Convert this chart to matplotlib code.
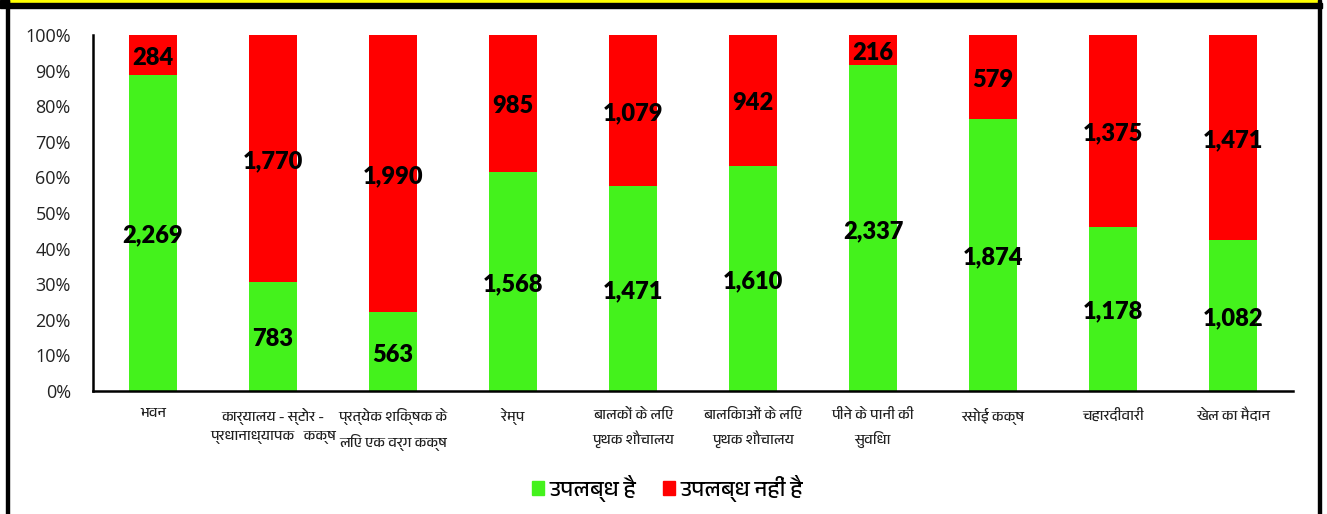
import matplotlib
matplotlib.use('Agg')
import matplotlib.pyplot as plt
import numpy as np
from matplotlib import font_manager
from matplotlib.ft2font import FT2Font
from matplotlib.patches import Rectangle, Patch

categories = ['भवन', 'कार्यालय - स्टोर -\nप्रधानाध्यापक   कक्ष', 'प्रत्येक शिक्षक के\nलिए एक वर्ग कक्ष',
              'रेम्प', 'बालकों के लिए\nपृथक शौचालय', 'बालिकाओं के लिए\nपृथक शौचालय',
              'पीने के पानी की\nसुविधा', 'रसोई कक्ष', 'चहारदीवारी', 'खेल का मैदान']
available = [2269, 783, 563, 1568, 1471, 1610, 2337, 1874, 1178, 1082]
not_available = [284, 1770, 1990, 985, 1079, 942, 216, 579, 1375, 1471]
series_names = ['उपलब्ध है', 'उपलब्ध नहीं है']
green = '#44F21C'
red = '#FF0000'

# fonts with devanagari glyphs, prefer dedicated devanagari ones
found = []
for f in font_manager.fontManager.ttflist:
    try:
        if 0x092D in FT2Font(f.fname).get_charmap() and f.style == 'normal':
            found.append(f.name)
    except Exception:
        pass
found = sorted(set(found), key=lambda n: (0 if 'Devanagari' in n else 1 if 'Lohit' in n else 2, n))
deva_family = found[:1] + ['DejaVu Sans']

avail = np.array(available, dtype=float)
notav = np.array(not_available, dtype=float)
tot = avail + notav
p_av = avail / tot * 100
p_na = notav / tot * 100

fig = plt.figure(figsize=(13.27, 5.14), dpi=100)
ax = fig.add_axes([0.0701, 0.2393, 0.9043, 0.6926])

x = np.arange(len(categories))
b1 = ax.bar(x, p_av, width=0.4, color=green, label=series_names[0])
b2 = ax.bar(x, p_na, width=0.4, bottom=p_av, color=red, label=series_names[1])
lab_font = dict(fontsize=17, fontweight='heavy', family=['Lato', 'DejaVu Sans'], color='black')
anns = ax.bar_label(b1, labels=[f'{v:,}' for v in available], label_type='center', **lab_font)
anns += ax.bar_label(b2, labels=[f'{v:,}' for v in not_available], label_type='center', **lab_font)
for a in anns:
    a.xyann = (0, -2)

ax.set_xlim(-0.5, 9.5)
ax.set_ylim(0, 100)
ax.set_yticks(np.arange(0, 101, 10))
ax.set_yticklabels([f'{t}%' for t in range(0, 101, 10)], family=['Open Sans', 'DejaVu Sans'], fontsize=13, color='#222222')
ax.set_xticks(x)
ax.set_xticklabels(categories, family=deva_family, fontsize=10.5, linespacing=1.75, color='#222222')
ax.tick_params(axis='both', length=0)
ax.tick_params(axis='y', pad=16)
ax.tick_params(axis='x', pad=12)
for s in ['top', 'right']:
    ax.spines[s].set_visible(False)
for s in ['left', 'bottom']:
    ax.spines[s].set_linewidth(1.8)
    ax.spines[s].set_color('black')

handles = [Patch(color=green), Patch(color=red)]
fig.legend(handles, series_names, loc='center', bbox_to_anchor=(0.503, 0.05), ncol=2, frameon=False,
           prop={'family': deva_family, 'size': 16}, handlelength=0.55, handleheight=0.55,
           handletextpad=0.25, columnspacing=1.2)

# frame around the chart
W, H = 1327.0, 514.0
fig.patches.append(Rectangle((9 / W, 1 - 3 / H), 1309 / W, 3 / H, transform=fig.transFigure, color='#FFFF00', zorder=5))
fig.patches.append(Rectangle((0, 1 - 8 / H), 1322 / W, 5 / H, transform=fig.transFigure, color='black', zorder=5))
fig.patches.append(Rectangle((0, 1 - 3 / H), 9 / W, 3 / H, transform=fig.transFigure, color='black', zorder=5))
fig.patches.append(Rectangle((6 / W, 0), 3 / W, 1, transform=fig.transFigure, color='black', zorder=5))
fig.patches.append(Rectangle((1318 / W, 0), 3 / W, 1, transform=fig.transFigure, color='black', zorder=5))

fig.savefig('out.png', dpi=100)
